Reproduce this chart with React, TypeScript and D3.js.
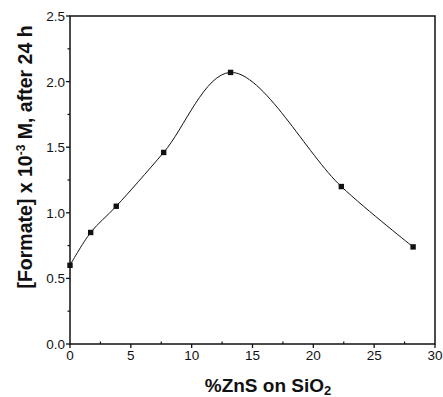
import * as d3 from 'd3';

// %ZnS on SiO2 vs formate concentration after 24 h
const zns = [0, 1.7, 3.8, 7.7, 13.2, 22.3, 28.2];
const formate = [0.6, 0.85, 1.05, 1.46, 2.07, 1.2, 0.74];
const xTicks = [0, 5, 10, 15, 20, 25, 30];
const yTicks = [0, 0.5, 1.0, 1.5, 2.0, 2.5];

export default function App() {
  const width = 443;
  const height = 397;
  const margin = { top: 16, right: 8, bottom: 53, left: 70 };

  const x = d3.scaleLinear().domain([0, 30]).range([margin.left, width - margin.right - 0]);
  const y = d3.scaleLinear().domain([0, 2.5]).range([height - margin.bottom, margin.top]);

  const points = zns.map((v, i) => [v, formate[i]] as [number, number]);
  const line = d3.line<[number, number]>()
    .x(d => x(d[0]))
    .y(d => y(d[1]))
    .curve(d3.curveCatmullRom.alpha(0.5));

  const x0 = x(0), x1 = x(30), y0 = y(0), y1 = y(2.5);
  const minorX = d3.range(2.5, 30, 5);
  const minorY = d3.range(0.25, 2.5, 0.5);
  const font = 'Liberation Sans, Arial, sans-serif';

  return (
    <svg width={width} height={height} style={{ position: 'absolute', left: 0, top: 0, background: '#fff' }}>
      <path d={line(points) ?? ''} fill="none" stroke="#111" strokeWidth={1} />
      {points.map((d, i) => (
        <rect key={i} x={x(d[0]) - 2.7} y={y(d[1]) - 2.7} width={5.4} height={5.4} fill="#111" />
      ))}

      {/* frame */}
      <rect x={x0} y={y1} width={x1 - x0} height={y0 - y1} fill="none" stroke="#111" strokeWidth={1.5} />

      {/* x axis ticks */}
      {xTicks.map(t => (
        <g key={'xt' + t}>
          <line x1={x(t)} x2={x(t)} y1={y0} y2={y0 + 4} stroke="#111" strokeWidth={1.3} />
          <text x={x(t)} y={y0 + 16} textAnchor="middle" fontFamily={font} fontSize={13.5} fill="#111">{t}</text>
        </g>
      ))}
      {minorX.map(t => (
        <line key={'xm' + t} x1={x(t)} x2={x(t)} y1={y0} y2={y0 - 2.5} stroke="#111" strokeWidth={1.2} />
      ))}

      {/* y axis ticks */}
      {yTicks.map(t => (
        <g key={'yt' + t}>
          <line x1={x0 - 4} x2={x0} y1={y(t)} y2={y(t)} stroke="#111" strokeWidth={1.3} />
          <text x={x0 - 5} y={y(t) + 5} textAnchor="end" fontFamily={font} fontSize={13.5} fill="#111">{t.toFixed(1)}</text>
        </g>
      ))}
      {minorY.map(t => (
        <line key={'ym' + t} x1={x0 - 2.5} x2={x0} y1={y(t)} y2={y(t)} stroke="#111" strokeWidth={1.2} />
      ))}

      {/* axis titles */}
      <text x={268} y={392} textAnchor="middle" fontFamily={font} fontWeight="bold" fontSize={19} fill="#111">
        %ZnS on SiO<tspan fontSize={13} dy={3}>2</tspan>
      </text>
      <text transform={`translate(32,157) rotate(-90)`} textAnchor="middle" fontFamily={font} fontWeight="bold" fontSize={19.5} fill="#111">
        [Formate] x 10<tspan fontSize={12} dy={-7}>-3</tspan><tspan dy={7}> M, after 24 h</tspan>
      </text>
    </svg>
  );
}
